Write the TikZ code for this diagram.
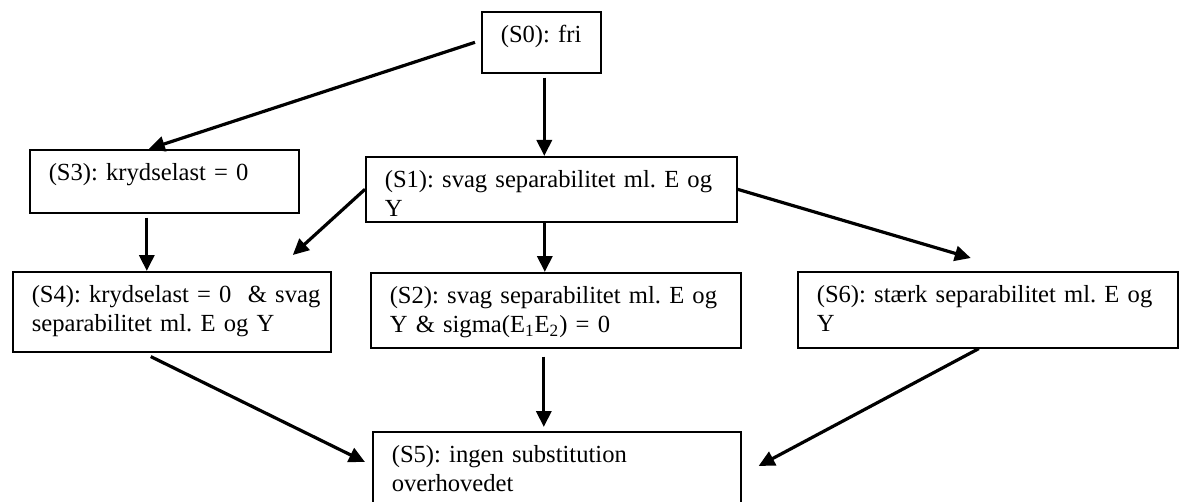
\documentclass[tikz,border=0pt]{standalone}
\usepackage{fontspec}
\setmainfont{Liberation Serif}
\usepackage{tikz}
\usetikzlibrary{arrows.meta}

\tikzset{
	tilstand/.style={draw, line width=0.8pt, anchor=north west, align=left,
		inner xsep=9.5pt, inner ysep=0pt, text height=15.5pt,
		font=\fontsize{12.3}{14.5}\selectfont\frenchspacing},
}

\begin{document}
\begin{tikzpicture}[x=0.5pt, y=-0.5pt, >={Triangle[length=8pt,width=7.5pt]}, line width=1.6pt]
	\useasboundingbox (0,0) rectangle (1181,502);

	% Nodes {S0, S1, ..., S6}
	\node [tilstand, text width=40.5pt,  text depth=15pt]	(S0) at (481,11)	{\mbox{(S0): fri}};
	\node [tilstand, text width=115.5pt, text depth=16pt]	(S3) at (29,149)	{\mbox{(S3): krydselast = 0}};
	\node [tilstand, text width=166.5pt, text depth=17pt]	(S1) at (365,156)	{\mbox{(S1): svag separabilitet ml. E og}\\Y};
	\node [tilstand, text width=140pt,   text depth=24.5pt]	(S4) at (12,271)	{\mbox{(S4): krydselast = 0\ \ \& svag}\\\mbox{separabilitet ml. E og Y}};
	\node [tilstand, text width=166pt,   text depth=22pt]	(S2) at (370,272)	{\mbox{(S2): svag separabilitet ml. E og}\\\mbox{Y \& sigma(E\textsubscript{1}E\textsubscript{2}) = 0}};
	\node [tilstand, text width=171pt,   text depth=22.5pt]	(S6) at (797,271)	{\mbox{(S6): stærk separabilitet ml. E og}\\Y};
	\node [tilstand, text width=165pt,   text depth=34.5pt]	(S5) at (372,431)	{\mbox{(S5): ingen substitution}\\overhovedet};

	% Paths
	\path [->] ([xshift=-3pt]S0.west)	edge	([xshift=-7.75pt]S3.north);
	\path [->] ([shift={(1.5pt,-2pt)}]S0.south)	edge	([xshift=1.5pt]S0.south |- S1.north);
	\path [->] ([shift={(-8.75pt,-2pt)}]S3.south)	edge	([xshift=-8.75pt]S3.south |- S4.north);
	\path [->] (S1.west)	edge	([shift={(60.5pt,8pt)}]S4.north);
	\path [->] ([xshift=-3.25pt]S1.south)	edge	([xshift=-3.25pt]S1.south |- S2.north);
	\path [->] (S1.east)	edge	([shift={(-8.5pt,6.5pt)}]S6.north);
	\path [->] ([shift={(-10.5pt,-2pt)}]S4.south)	edge	([shift={(-3.5pt,-15.5pt)}]S5.north west);
	\path [->] ([shift={(-6pt,-4pt)}]S2.south)	edge	([shift={(-6pt,2pt)}]S2.south |- S5.north);
	\path [->] ([xshift=-4.5pt]S6.south)	edge	([shift={(8.5pt,-17.5pt)}]S5.north east);

\end{tikzpicture}
\end{document}
